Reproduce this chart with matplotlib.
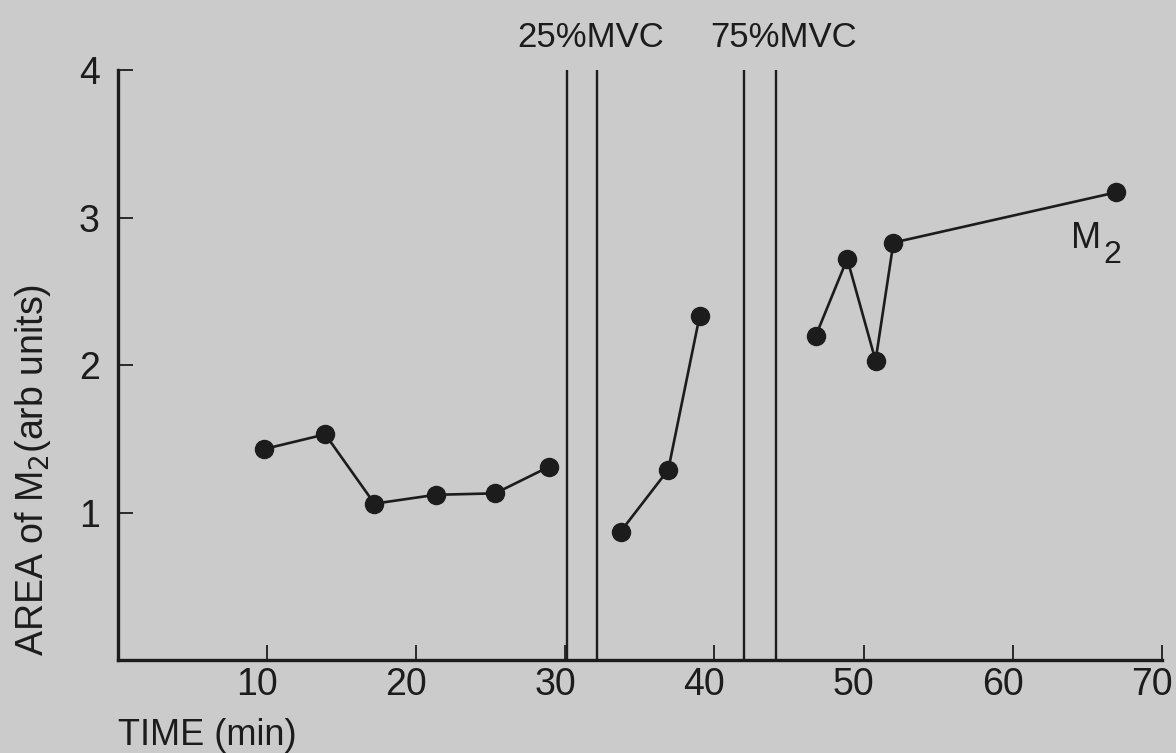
import matplotlib.pyplot as plt
from matplotlib.transforms import ScaledTranslation

# area of M2 (arb units) vs time (min), three measurement phases
t_rest = [9.8, 13.9, 17.2, 21.3, 25.3, 28.9]
a_rest = [1.43, 1.53, 1.06, 1.12, 1.13, 1.31]

t_25 = [33.7, 36.9, 39.0]
a_25 = [0.87, 1.29, 2.33]

t_75 = [46.8, 48.9, 50.8, 52.0, 66.9]
a_75 = [2.20, 2.72, 2.03, 2.83, 3.17]

# contraction periods (start, end) in min
mvc_periods = [(30.1, 32.1), (42.0, 44.1)]
mvc_labels = ["25%MVC", "75%MVC"]

xticks = [10, 20, 30, 40, 50, 60, 70]
yticks = [1, 2, 3, 4]

bg = "#cbcbcb"
ink = "#1c1c1c"
plt.rcParams['font.family'] = ['Liberation Sans', 'DejaVu Sans']

fig = plt.figure(figsize=(11.76, 7.53), dpi=100, facecolor=bg)
ax = fig.add_axes([0.1003, 0.1235, 0.8877, 0.7835], facecolor=bg)

for t, a in [(t_rest, a_rest), (t_25, a_25), (t_75, a_75)]:
    ax.plot(t, a, color=ink, lw=1.9, marker='o', ms=13, mfc=ink, mec=ink)

label_x = [31.7, 44.6]
for (x0, x1), lab, lx in zip(mvc_periods, mvc_labels, label_x):
    ax.vlines([x0, x1], 0, 4.02, color=ink, lw=1.7)
    ax.text(lx, 4.22, lab, ha='center', va='center',
            fontsize=25, color=ink, clip_on=False)

# curve label M2
ax.text(63.9, 2.79, "M", ha='left', va='baseline', fontsize=26, color=ink)
ax.text(66.1, 2.69, "2", ha='left', va='baseline', fontsize=23, color=ink)

ax.set_xlim(0, 70)
ax.set_ylim(0, 4)
ax.spines['top'].set_visible(False)
ax.spines['right'].set_visible(False)
for s in ['left', 'bottom']:
    ax.spines[s].set_linewidth(2.4)
    ax.spines[s].set_color(ink)
ax.set_xticks(xticks)
ax.set_yticks(yticks)
ax.tick_params(direction='in', length=11, width=1.3, color=ink,
               labelsize=27, labelcolor=ink)
ax.tick_params(axis='x', pad=5)
ax.tick_params(axis='y', pad=13)
shift = ScaledTranslation(-10 / 100, 0, fig.dpi_scale_trans)
for lbl in ax.get_xticklabels():
    lbl.set_transform(lbl.get_transform() + shift)

fig.text(0.1, 0.0106, "TIME (min)", ha='left', va='baseline', fontsize=26, color=ink)
fig.text(0.028, 0.376, "AREA of M$_2$(arb units)", rotation=90, ha='center',
         va='center', fontsize=27, color=ink)

fig.savefig("out.png", dpi=100, facecolor=bg)
